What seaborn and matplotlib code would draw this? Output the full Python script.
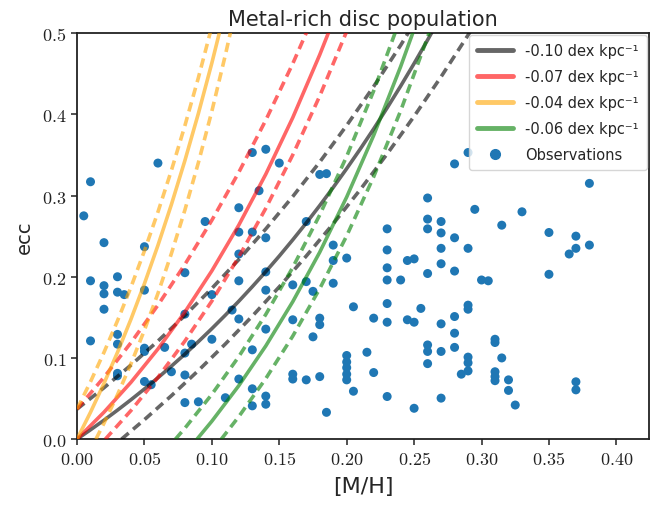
import numpy as np
import pandas as pd
import matplotlib
matplotlib.use("Agg")
import matplotlib.pyplot as plt
from matplotlib.lines import Line2D
from matplotlib.ticker import FuncFormatter
import seaborn as sns

# ---------------- data ----------------
obs_mh = [0.06, 0.01, 0.005, 0.095, 0.13, 0.135, 0.12, 0.12, 0.13,
          0.14, 0.15, 0.18, 0.185, 0.17, 0.14, 0.19, 0.2, 0.19, 0.14, 0.16, 0.17, 0.19, 0.175,
          0.26, 0.26, 0.27, 0.26, 0.27, 0.23, 0.23, 0.27, 0.245, 0.25, 0.27, 0.23, 0.26, 0.23, 0.24,
          0.14, 0.205, 0.23, 0.255, 0.16, 0.18, 0.18, 0.22, 0.23, 0.245, 0.25, 0.27, 0.14, 0.175,
          0.13, 0.2, 0.2, 0.2, 0.2, 0.2, 0.215, 0.22, 0.26, 0.26, 0.27, 0.26, 0.16, 0.16, 0.17,
          0.18, 0.205, 0.23, 0.27, 0.185, 0.25, 0.13, 0.14, 0.14, 0.13,
          0.29, 0.28, 0.38, 0.295, 0.33, 0.315, 0.28, 0.35, 0.37, 0.29, 0.37, 0.365, 0.38, 0.28,
          0.35, 0.3, 0.305,
          0.29, 0.29, 0.28, 0.28, 0.28, 0.31, 0.31, 0.29, 0.29, 0.315, 0.29, 0.285, 0.31, 0.31,
          0.31, 0.32, 0.32, 0.325, 0.37, 0.37,
          0.02, 0.05, 0.01, 0.02, 0.02, 0.03, 0.03, 0.035, 0.02, 0.05, 0.08, 0.1, 0.12, 0.12,
          0.115, 0.12, 0.08, 0.01, 0.03, 0.03, 0.05, 0.05, 0.065, 0.08, 0.085, 0.1, 0.03, 0.03,
          0.07, 0.08, 0.12, 0.05, 0.055, 0.08, 0.09, 0.11]
obs_ecc = [0.34, 0.317, 0.275, 0.268, 0.353, 0.306, 0.285, 0.255, 0.255,
           0.357, 0.34, 0.326, 0.327, 0.268, 0.248, 0.239, 0.223, 0.22, 0.206, 0.19, 0.194, 0.192, 0.182,
           0.297, 0.271, 0.268, 0.259, 0.254, 0.259, 0.233, 0.235, 0.22, 0.222, 0.216, 0.211, 0.204, 0.196, 0.196,
           0.1835, 0.163, 0.167, 0.161, 0.147, 0.149, 0.141, 0.149, 0.144, 0.147, 0.144, 0.142, 0.1355, 0.126,
           0.11, 0.103, 0.095, 0.088, 0.08, 0.073, 0.107, 0.082, 0.116, 0.108, 0.108, 0.093, 0.08, 0.074, 0.073,
           0.077, 0.059, 0.0525, 0.0505, 0.033, 0.038, 0.062, 0.053, 0.043, 0.041,
           0.353, 0.339, 0.315, 0.283, 0.28, 0.2635, 0.248, 0.2545, 0.25, 0.235, 0.235, 0.228, 0.239, 0.207,
           0.203, 0.196, 0.195,
           0.165, 0.16, 0.151, 0.1305, 0.113, 0.123, 0.119, 0.101, 0.094, 0.1, 0.084, 0.08, 0.083, 0.077,
           0.072, 0.073, 0.06, 0.042, 0.0706, 0.0607,
           0.242, 0.237, 0.195, 0.189, 0.179, 0.2, 0.181, 0.178, 0.16, 0.1835, 0.205, 0.178, 0.228, 0.195,
           0.159, 0.148, 0.154, 0.121, 0.129, 0.117, 0.112, 0.108, 0.113, 0.106, 0.117, 0.123, 0.081, 0.078,
           0.083, 0.079, 0.074, 0.071, 0.067, 0.045, 0.046, 0.051]

gradients = ["-0.10", "-0.07", "-0.04", "-0.06"]
colors = ["#000000", "#ff0000", "#ffa500", "#008000"]

# model curves: (solid, upper dashed, lower dashed)
k_mid_x = [0, 0.01, 0.02, 0.03, 0.04, 0.05, 0.06, 0.07, 0.08, 0.09, 0.10, 0.11, 0.12, 0.13,
           0.14, 0.15, 0.16, 0.17, 0.18, 0.19, 0.20, 0.21, 0.22, 0.23, 0.24, 0.25, 0.26, 0.27]
k_mid_y = [0, 0.0115, 0.0233, 0.0357, 0.0485, 0.0618, 0.0756, 0.0899, 0.1047, 0.1201, 0.1361,
           0.1527, 0.1699, 0.1878, 0.2063, 0.2255, 0.2455, 0.2662, 0.2877, 0.3100, 0.3332, 0.3572,
           0.3821, 0.4080, 0.4348, 0.4627, 0.4916, 0.5215]
k_up_x = [0, 0.02, 0.04, 0.06, 0.08, 0.10, 0.12, 0.14, 0.16, 0.18, 0.20, 0.22, 0.24, 0.26]
k_up_y = [0.037, 0.0633, 0.0912, 0.1208, 0.1523, 0.1857, 0.2212, 0.2589, 0.2988, 0.3413,
          0.3864, 0.4343, 0.4851, 0.5391]
k_lo_x = [0.033, 0.05, 0.07, 0.09, 0.11, 0.13, 0.15, 0.17, 0.19, 0.21, 0.23, 0.25, 0.27, 0.29, 0.30]
k_lo_y = [0, 0.0240, 0.0535, 0.0845, 0.1172, 0.1515, 0.1876, 0.2255, 0.2653, 0.3072, 0.3513,
          0.3976, 0.4463, 0.4976, 0.5241]

r_mid_x = [0, 0.02, 0.04, 0.06, 0.08, 0.10, 0.12, 0.14, 0.16, 0.18, 0.19]
r_mid_y = [0, 0.0332, 0.0700, 0.1110, 0.1566, 0.2073, 0.2637, 0.3263, 0.3960, 0.4734, 0.5153]
r_up_x = [0, 0.02, 0.04, 0.06, 0.08, 0.10, 0.12, 0.14, 0.16, 0.18]
r_up_y = [0.037, 0.0762, 0.1188, 0.1650, 0.2152, 0.2696, 0.3287, 0.3929, 0.4625, 0.5381]
r_lo_x = [0.021, 0.04, 0.06, 0.08, 0.10, 0.12, 0.14, 0.16, 0.18, 0.20]
r_lo_y = [0, 0.0352, 0.0760, 0.1208, 0.1701, 0.2245, 0.2843, 0.3501, 0.4226, 0.5023]

o_mid_x = [0, 0.01, 0.02, 0.03, 0.04, 0.05, 0.06, 0.07, 0.08, 0.09, 0.10, 0.11]
o_mid_y = [0, 0.0331, 0.0687, 0.1068, 0.1477, 0.1915, 0.2386, 0.2890, 0.3431, 0.4011, 0.4633, 0.5300]
o_up_x = [0, 0.01, 0.02, 0.03, 0.04, 0.05, 0.06, 0.07, 0.08, 0.09, 0.10]
o_up_y = [0.037, 0.0707, 0.1069, 0.1457, 0.1872, 0.2319, 0.2797, 0.331, 0.3861, 0.4451, 0.5084]
o_lo_x = [0.014, 0.02, 0.03, 0.04, 0.05, 0.06, 0.07, 0.08, 0.09, 0.10, 0.11, 0.115]
o_lo_y = [0, 0.0196, 0.0546, 0.0927, 0.1343, 0.1794, 0.2286, 0.2822, 0.3405, 0.4039, 0.4730, 0.5099]

g_mid_x = [0.089, 0.10, 0.12, 0.14, 0.16, 0.18, 0.20, 0.22, 0.24, 0.25]
g_mid_y = [0, 0.0221, 0.0659, 0.1148, 0.1693, 0.2302, 0.2982, 0.3741, 0.4588, 0.5048]
g_up_x = [0.073, 0.08, 0.10, 0.12, 0.14, 0.16, 0.18, 0.20, 0.22, 0.24]
g_up_y = [0, 0.0135, 0.0552, 0.1017, 0.1536, 0.2115, 0.2761, 0.3483, 0.4289, 0.5188]
g_lo_x = [0.107, 0.12, 0.14, 0.16, 0.18, 0.20, 0.22, 0.24, 0.26, 0.27]
g_lo_y = [0, 0.0278, 0.0746, 0.1269, 0.1853, 0.2504, 0.3231, 0.4043, 0.4949, 0.5442]

curves = [
    ((k_mid_x, k_mid_y), (k_up_x, k_up_y), (k_lo_x, k_lo_y)),
    ((r_mid_x, r_mid_y), (r_up_x, r_up_y), (r_lo_x, r_lo_y)),
    ((o_mid_x, o_mid_y), (o_up_x, o_up_y), (o_lo_x, o_lo_y)),
    ((g_mid_x, g_mid_y), (g_up_x, g_up_y), (g_lo_x, g_lo_y)),
]

xticks = [0.0, 0.05, 0.10, 0.15, 0.20, 0.25, 0.30, 0.35, 0.40]
yticks = [0.0, 0.1, 0.2, 0.3, 0.4, 0.5]

# ---------------- plot ----------------
sns.set_theme(style="ticks")
plt.rcParams["font.family"] = ["DejaVu Sans"]
plt.rcParams["mathtext.fontset"] = "cm"

fig = plt.figure(figsize=(6.64, 5.10), dpi=100)
ax = fig.add_axes([0.116, 0.137, 0.861, 0.796])

obs = pd.DataFrame({"mh": obs_mh, "ecc": obs_ecc})
sns.scatterplot(data=obs, x="mh", y="ecc", color="#1f77b4", s=42, edgecolor="none",
                linewidth=0, ax=ax, legend=False, zorder=2)

dash = (0, (2.6, 1.6))
for (mid, up, lo), col in zip(curves, colors):
    for (cx, cy), ls in ((mid, "-"), (up, dash), (lo, dash)):
        df = pd.DataFrame({"x": cx, "y": cy})
        sns.lineplot(data=df, x="x", y="y", color=col, alpha=0.6, lw=2.6,
                     linestyle=ls, sort=False, estimator=None, ax=ax, zorder=3)

ax.set_xlim(0, 0.424)
ax.set_ylim(0, 0.5)
ax.set_xticks(xticks)
ax.set_yticks(yticks)
ax.xaxis.set_major_formatter(FuncFormatter(lambda v, p: r"$%.2f$" % v))
ax.yaxis.set_major_formatter(FuncFormatter(lambda v, p: r"$%.1f$" % v))
ax.tick_params(axis="both", direction="out", length=4, width=1.1, labelsize=13,
               colors="#222222", labelcolor="#222222")
for sp in ax.spines.values():
    sp.set_visible(True)
    sp.set_color("#222222")
    sp.set_linewidth(1.3)

ax.set_xlabel("[M/H]", fontsize=16, labelpad=6)
ax.set_ylabel("ecc", fontsize=14, labelpad=6)
ax.set_title("Metal-rich disc population", fontsize=15, pad=6)

handles = [Line2D([], [], color=c, alpha=0.6, lw=3.5) for c in colors]
labels = [f"{g} dex kpc⁻¹" for g in gradients]
handles.append(Line2D([], [], color="#1f77b4", marker="o", linestyle="none", markersize=7))
labels.append("Observations")
ax.legend(handles, labels, loc="upper right", fontsize=10.5, frameon=True,
          handlelength=2.5, borderaxespad=0.15, labelspacing=0.75, borderpad=0.55)

fig.savefig("out.png", dpi=100)
